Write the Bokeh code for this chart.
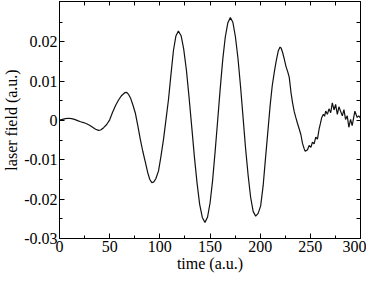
from bokeh.plotting import figure
from bokeh.models import LinearAxis, FixedTicker, Range1d
from bokeh.embed import file_html
from bokeh.resources import INLINE

# time (a.u.) and laser field (a.u.)
time = [0, 3, 6, 9, 12, 15, 18, 21, 24, 27, 30, 33, 36, 39, 41, 44, 47, 50,
        53, 56, 59, 62, 65, 67, 69, 71, 73, 75.5, 78, 80.5, 83, 85.5, 88, 90, 92, 94, 96,
        98.7, 101, 103.7, 106, 108.6, 111, 113.6, 116, 118.5,
        121.2, 123.8, 126.5, 129.1, 131.8, 134.4, 137.1, 139.7, 142.4, 145,
        147.5, 150.1, 152.6, 155.1, 157.7, 160.2, 162.7, 165.2, 167.8, 170.3,
        172.8, 175.3, 177.9, 180.4, 182.9, 185.4, 188, 190.5, 193, 195.5,
        198, 200.5, 203, 205, 207.6, 210, 212, 214.2, 216, 218, 219.8, 221, 222.5, 224,
        225.7, 227.5, 229, 230.7, 232.3, 234, 235.5, 237.3, 239, 240.6, 242.2, 243.9, 244.9,
        247.2, 248.8, 250.5, 252.1, 253.8, 255.4, 257.1, 258.7, 260.0, 261.4, 263.0, 264.2,
        265.3, 267.0, 268.6, 270.3, 271.9, 273.6, 275.2, 276.9, 278.5, 281.9, 283.5, 285.1,
        286.8, 288.4, 290.1, 291.7, 294.4, 296.7, 298.3, 300]
field = [0.0001, 0.0003, 0.0005, 0.0006, 0.0005, 0.0003, 0.0000, -0.0003, -0.0005, -0.0008,
         -0.0012, -0.0017, -0.0022, -0.0025, -0.0024, -0.0018, -0.0010, 0.0002,
         0.0022, 0.0039, 0.0053, 0.0064, 0.0071, 0.0072, 0.0066, 0.0056, 0.0041, 0.0020,
         -0.0012, -0.0047, -0.0078, -0.0105, -0.0133, -0.0150, -0.0158, -0.0156, -0.0148,
         -0.0128, -0.0093, -0.0047, 0.0000, 0.0053, 0.0115, 0.0179, 0.0215, 0.0228,
         0.0216, 0.0182, 0.0128, 0.0060, -0.0016, -0.0091, -0.0159, -0.0213, -0.0247, -0.0259,
         -0.0246, -0.0209, -0.0152, -0.0079, 0.0002, 0.0082, 0.0155, 0.0212, 0.0249, 0.0262,
         0.0250, 0.0214, 0.0158, 0.0088, 0.0010, -0.0069, -0.0139, -0.0195, -0.0231, -0.0243,
         -0.0236, -0.0217, -0.0165, -0.0105, -0.0030, 0.0040, 0.0088, 0.0125, 0.0152, 0.0177,
         0.0187, 0.0184, 0.0172, 0.0157, 0.0138, 0.0124, 0.0110, 0.0072, 0.0045, 0.0022,
         0.0008, -0.0008, -0.0022, -0.0036, -0.0058, -0.0072, -0.0078,
         -0.0074, -0.0063, -0.0068, -0.0055, -0.0059, -0.0042, -0.0047, -0.0022, -0.0008,
         0.0008, 0.0016, 0.0011, 0.0024, 0.0016, 0.0030, 0.0020, 0.0045, 0.0027, 0.0041,
         0.0016, 0.0035, 0.0012, 0.0028, 0.0003, 0.0012, -0.0017, 0.0003, -0.0013, 0.0024,
         0.0008, 0.0012, 0.0006]

x_ticks = [0, 50, 100, 150, 200, 250, 300]
x_minor = [25, 75, 125, 175, 225, 275]
y_ticks = [-0.03, -0.02, -0.01, 0.0, 0.01, 0.02]
y_tick_labels = ["-0.03", "-0.02", "-0.01", "0", "0.01", "0.02"]
y_minor = [-0.025, -0.015, -0.005, 0.005, 0.015, 0.025]

FONT = "Liberation Serif"
FS = "16px"

p = figure(width=366, height=274, output_backend="svg", toolbar_location=None,
           x_range=Range1d(0, 300), y_range=Range1d(-0.03, 0.0303),
           min_border_left=0, min_border_right=6, min_border_top=1, min_border_bottom=0,
           x_axis_label="time (a.u.)", y_axis_label="laser field (a.u.)")
p.grid.visible = False
p.outline_line_color = "black"
p.outline_line_width = 1
p.background_fill_color = "white"
p.border_fill_color = "white"

p.line(time, field, line_color="#111111", line_width=1.2)

p.xaxis.ticker = FixedTicker(ticks=x_ticks, minor_ticks=x_minor)
p.yaxis.ticker = FixedTicker(ticks=y_ticks, minor_ticks=y_minor)
p.yaxis.major_label_overrides = {v: s for v, s in zip(y_ticks, y_tick_labels)}

def style(ax):
    ax.major_tick_in = 5
    ax.major_tick_out = 0
    ax.minor_tick_in = 3
    ax.minor_tick_out = 0
    ax.axis_line_color = "black"
    ax.major_tick_line_color = "black"
    ax.minor_tick_line_color = "black"
    ax.major_label_text_font = FONT
    ax.major_label_text_font_size = FS
    ax.major_label_text_color = "black"
    ax.axis_label_text_font = FONT
    ax.axis_label_text_font_size = FS
    ax.axis_label_text_font_style = "normal"
    ax.axis_label_text_color = "black"

for ax in p.xaxis + p.yaxis:
    style(ax)
p.xaxis.major_label_standoff = 2
p.xaxis.axis_label_standoff = 0
p.yaxis.major_label_standoff = 2
p.yaxis.axis_label_standoff = 1

# mirrored tick marks on top and right (no labels: all positions as minor ticks)
top = LinearAxis(ticker=FixedTicker(ticks=[], minor_ticks=x_ticks + x_minor))
right = LinearAxis(ticker=FixedTicker(ticks=[], minor_ticks=y_ticks + y_minor))
for ax in (top, right):
    style(ax)
    ax.minor_tick_in = 4
    ax.major_label_standoff = 0
    ax.axis_label = None
p.add_layout(top, "above")
p.add_layout(right, "right")

open("out.html", "w").write(file_html(p, INLINE))
